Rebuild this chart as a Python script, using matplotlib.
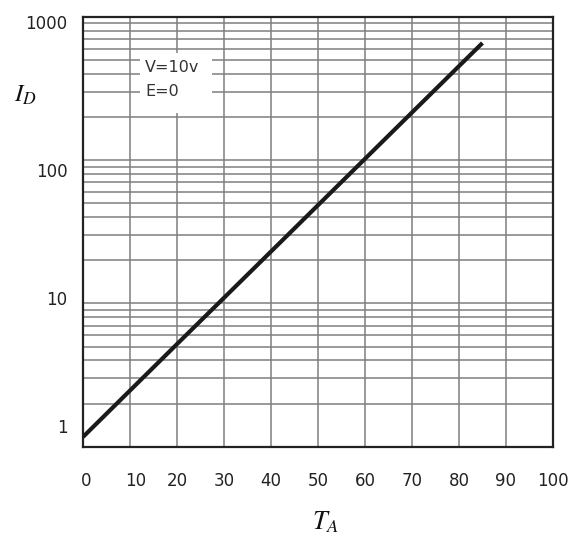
import matplotlib
matplotlib.use("Agg")
import matplotlib.pyplot as plt
from matplotlib.patches import Rectangle
from matplotlib.transforms import ScaledTranslation
from matplotlib.ticker import LogLocator, NullFormatter

# ---- data ----
temp_TA = [0, 20, 40, 60, 85]
current_ID = [1.17, 5.2, 23.0, 102.0, 656.0]

x_ticks = [0, 10, 20, 30, 40, 50, 60, 70, 80, 90, 100]
x_tick_labels = ["0", "10", "20", "30", "40", "50", "60", "70", "80", "90", "100"]
y_ticks = [1, 10, 100, 1000]
y_tick_labels = ["1", "10", "100", "1000"]
annotation_lines = ["V=10v", "E=0"]
x_label = r"$T_A$"
y_label = r"$I_D$"

plt.rcParams["mathtext.fontset"] = "stix"
plt.rcParams["font.family"] = ["DejaVu Sans"]

fig = plt.figure(figsize=(5.83, 5.36), dpi=100)
ax = fig.add_axes([0.1424, 0.1666, 0.8061, 0.8022])

ax.set_yscale("log")
ax.set_xlim(0, 100)
ax.set_ylim(1, 1000)

grid_color = "#7f7f7f"
ax.set_xticks(x_ticks)
ax.set_xticklabels(x_tick_labels)
ax.set_yticks(y_ticks)
ax.set_yticklabels(y_tick_labels)
ax.yaxis.set_minor_locator(LogLocator(base=10, subs=range(2, 10)))
ax.yaxis.set_minor_formatter(NullFormatter())

ax.grid(True, which="major", axis="both", color=grid_color, linewidth=1.1)
ax.grid(True, which="minor", axis="y", color=grid_color, linewidth=1.1)
ax.set_axisbelow(True)

ax.tick_params(axis="both", which="both", length=0)
ax.tick_params(axis="y", pad=11, labelsize=12, labelcolor="#222222")
ax.tick_params(axis="x", pad=18, labelsize=12, labelcolor="#222222")

for sp in ax.spines.values():
    sp.set_color("#222222")
    sp.set_linewidth(1.6)

# white box behind the annotation (interrupts the grid)
ax.add_patch(Rectangle((0.121, 0.776), 0.153, 0.14, transform=ax.transAxes,
                       facecolor="white", edgecolor="none", zorder=1.5))
ax.text(0.132, 0.883, annotation_lines[0], transform=ax.transAxes, fontsize=11.5,
        color="#333333", va="center", ha="left", zorder=3)
ax.text(0.132, 0.825, annotation_lines[1], transform=ax.transAxes, fontsize=11.5,
        color="#333333", va="center", ha="left", zorder=3)

ax.plot(temp_TA, current_ID, color="#1a1a1a", linewidth=3.0,
        solid_capstyle="butt", zorder=4)

# tick label offsets (pixels) to follow the reference placement
fig.canvas.draw()
y_offsets_px = [21, 5, -10, -5]
for tick, dy in zip(ax.yaxis.get_major_ticks(), y_offsets_px):
    tick.label1.set_transform(tick.label1.get_transform() +
                              ScaledTranslation(0, dy / 100, fig.dpi_scale_trans))
x_offsets_px = [3, 6, 0, 0, 0, 0, 0, 0, 0, 0, 0]
for tick, dx in zip(ax.xaxis.get_major_ticks(), x_offsets_px):
    tick.label1.set_transform(tick.label1.get_transform() +
                              ScaledTranslation(dx / 100, 0, fig.dpi_scale_trans))

fig.text(0.043, 0.823, y_label, fontsize=18, ha="center", va="center", color="#111111")
fig.text(0.558, 0.026, x_label, fontsize=19, ha="center", va="center", color="#111111")

fig.savefig("out.png", dpi=100, facecolor="white")
